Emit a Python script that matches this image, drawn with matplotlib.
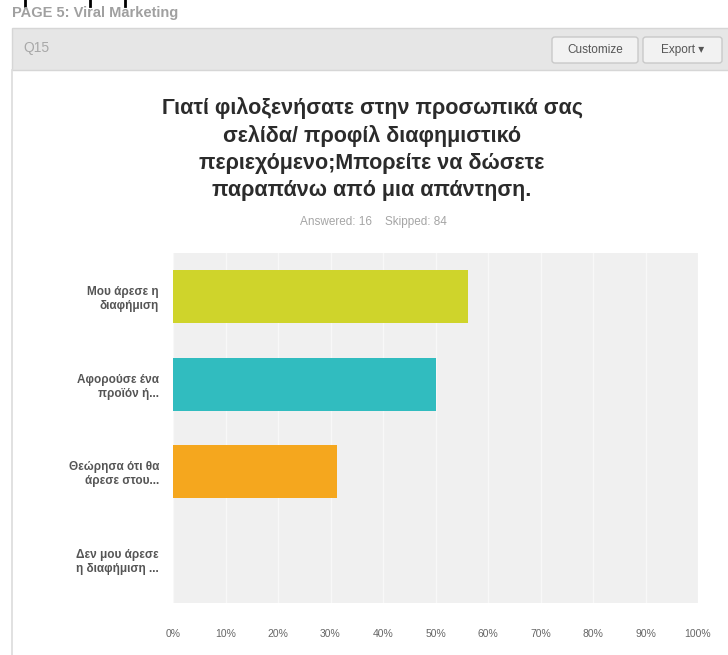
import matplotlib.pyplot as plt
from matplotlib.patches import Rectangle, FancyBboxPatch
from matplotlib.lines import Line2D

plt.rcParams["font.family"] = ["Liberation Sans", "DejaVu Sans"]

W, H = 728, 655

# Survey answers for Q15
categories = [
    "Μου άρεσε η\nδιαφήμιση",
    "Αφορούσε ένα\nπροϊόν ή...",
    "Θεώρησα ότι θα\nάρεσε στου...",
    "Δεν μου άρεσε\nη διαφήμιση ...",
]
percentages = [56.25, 50.0, 31.25, 0.0]
bar_colors = ["#cfd42b", "#31bcbf", "#f5a71e", "#9b9b9b"]
x_ticks = list(range(0, 101, 10))
x_tick_labels = [f"{t}%" for t in x_ticks]

title_lines = [
    "Γιατί φιλοξενήσατε στην προσωπικά σας",
    "σελίδα/ προφίλ διαφημιστικό",
    "περιεχόμενο;Μπορείτε να δώσετε",
    "παραπάνω από μια απάντηση.",
]
answered = 16
skipped = 84


def fx(x):
    return x / W


def fy(y):
    return 1 - y / H


fig = plt.figure(figsize=(W / 100, H / 100), dpi=100)
fig.patch.set_facecolor("white")

# -----------------------------
# Page header and question bar
# -----------------------------
fig.text(fx(12), fy(13), "PAGE 5: Viral Marketing", fontsize=10.5,
         color="#a0a0a0", ha="left", va="center", fontweight="bold")

fig.add_artist(Rectangle((fx(12), fy(70)), 1, 42 / H, transform=fig.transFigure,
                         facecolor="#e6e6e6", edgecolor="#d6d6d6", lw=1))
fig.add_artist(Line2D([fx(12), fx(12)], [fy(70), 0], transform=fig.transFigure,
                      color="#dcdcdc", lw=1.2))
fig.text(fx(23), fy(48), "Q15", fontsize=10, color="#a8a8a8",
         ha="left", va="center")

for left, right, label in [(552, 638, "Customize"), (643, 722, "Export \u25be")]:
    fig.add_artist(FancyBboxPatch((fx(left), fy(63)), (right - left) / W, 26 / H,
                                  boxstyle="round,pad=0,rounding_size=0.004",
                                  transform=fig.transFigure, facecolor="#f2f2f2",
                                  edgecolor="#c9c9c9", lw=1))
    fig.text(fx((left + right) / 2), fy(50), label, fontsize=8.5, color="#555555",
             ha="center", va="center")

# strokes cut off at the top edge
for x in [25, 90, 125]:
    fig.add_artist(Line2D([fx(x), fx(x)], [1, fy(6)], transform=fig.transFigure,
                          color="black", lw=2))

# -----------------------------
# Title
# -----------------------------
fig.text(fx(372), fy(149), "\n".join(title_lines), fontsize=15.5, fontweight="bold",
         color="#2b2b2b", ha="center", va="center", linespacing=1.35)
fig.text(fx(373), fy(222), f"Answered: {answered}    Skipped: {skipped}",
         fontsize=8.5, color="#a5a5a5", ha="center", va="center")

# -----------------------------
# Bar chart
# -----------------------------
ax = fig.add_axes([fx(173), fy(603), (698 - 173) / W, 350 / H])
ax.set_facecolor("#f0f0f0")
ax.barh(range(len(categories)), percentages, height=0.61, color=bar_colors, zorder=3)

ax.set_xlim(0, 100)
ax.set_ylim(len(categories) - 0.5, -0.5)
ax.set_xticks(x_ticks)
ax.set_xticklabels(x_tick_labels)
ax.set_yticks(range(len(categories)))
ax.set_yticklabels(categories)
ax.xaxis.grid(True, color="#f8f8f8", lw=1.0, zorder=1)
ax.set_axisbelow(True)

for spine in ax.spines.values():
    spine.set_visible(False)

ax.tick_params(axis="x", length=0, pad=19, labelsize=7.5, labelcolor="#666666")
ax.tick_params(axis="y", length=0, pad=10, labelsize=8.5, labelcolor="#555555")
for lbl in ax.get_yticklabels():
    lbl.set_fontweight("bold")

fig.savefig("out.png", dpi=100)
